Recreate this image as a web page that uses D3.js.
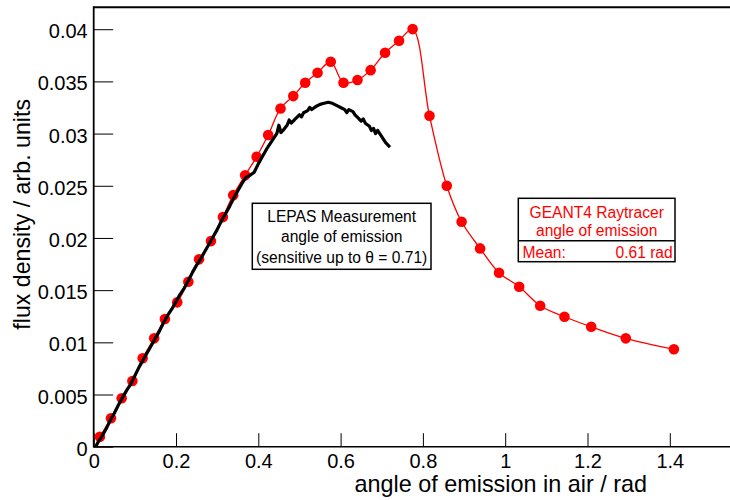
<!DOCTYPE html>
<html><head><meta charset="utf-8">
<script src="https://cdn.jsdelivr.net/npm/d3@7"></script>
<style>
html,body{margin:0;padding:0;background:#fff;}
svg{display:block;font-family:"Liberation Sans",Arial,Helvetica,sans-serif;}
</style></head>
<body>
<svg id="chart" width="730" height="500"></svg>
<script>
// ---- data ----
const geantAngle = [0.015,0.042,0.068,0.094,0.119,0.147,0.173,0.203,0.230,0.256,0.285,0.314,0.339,0.368,0.396,0.424,0.454,0.485,0.514,0.544,0.576,0.607,0.641,0.673,0.708,0.742,0.775,0.816,0.858,0.894,0.939,0.985,1.034,1.085,1.144,1.209,1.293,1.410];
const geantFlux  = [0.00096,0.00272,0.00464,0.00629,0.00847,0.01038,0.01223,0.01383,0.0158,0.01795,0.0197,0.0220,0.0241,0.0260,0.02778,0.02986,0.03241,0.03359,0.03487,0.03583,0.03688,0.03487,0.03513,0.03608,0.03774,0.03889,0.04001,0.03171,0.0250,0.02155,0.0190,0.01667,0.01533,0.01351,0.01245,0.01149,0.01038,0.00933];

const lepasAngle = [0.005,0.01,0.02,0.03,0.04,0.05,0.06,0.07,0.08,0.09,0.10,0.11,0.12,0.13,0.14,0.15,0.16,0.17,0.18,0.19,0.20,0.21,0.22,0.23,0.24,0.25,0.26,0.27,0.28,0.29,0.30,0.31,0.32,0.33,0.34,0.35,0.36,0.37,0.38,0.39,0.40,0.41,0.42,0.43,0.44,0.445,0.45,0.455,0.46,0.47,0.475,0.48,0.49,0.50,0.505,0.51,0.52,0.525,0.53,0.54,0.55,0.56,0.57,0.58,0.59,0.60,0.61,0.615,0.62,0.63,0.635,0.64,0.65,0.655,0.66,0.67,0.675,0.68,0.685,0.69,0.70,0.705,0.71,0.72];
const lepasFlux  = [0.0000,0.0004,0.0010,0.0017,0.0025,0.0032,0.0040,0.0047,0.0054,0.0060,0.0068,0.0076,0.0083,0.0090,0.0097,0.0104,0.0111,0.0119,0.0126,0.0132,0.0139,0.0146,0.0152,0.0159,0.0167,0.0174,0.0180,0.0187,0.0194,0.0201,0.0208,0.0216,0.0223,0.0230,0.0238,0.0245,0.0252,0.0258,0.0260,0.0263,0.0271,0.0278,0.0285,0.0291,0.0297,0.0300,0.0308,0.0301,0.0303,0.0308,0.0313,0.0310,0.0314,0.0318,0.0316,0.0320,0.0322,0.0325,0.0323,0.0326,0.0328,0.0329,0.0330,0.0329,0.0327,0.0325,0.0323,0.0320,0.0323,0.0321,0.0318,0.0316,0.0312,0.0314,0.0310,0.0307,0.0303,0.0305,0.0300,0.0303,0.0297,0.0294,0.0291,0.0287];

const xTickValues = [0,0.2,0.4,0.6,0.8,1.0,1.2,1.4];
const xTickLabels = ["0","0.2","0.4","0.6","0.8","1","1.2","1.4"];
const yTickValues = [0,0.005,0.01,0.015,0.02,0.025,0.03,0.035,0.04];
const yTickLabels = ["0","0.005","0.01","0.015","0.02","0.025","0.03","0.035","0.04"];

const xTitle = "angle of emission in air / rad";
const yTitle = "flux density / arb. units";
const lepasLegend = ["LEPAS Measurement","angle of emission","(sensitive up to \u03b8 = 0.71)"];
const geantLegend = ["GEANT4 Raytracer","angle of emission"];
const geantMean = ["Mean:","0.61 rad"];

// ---- layout ----
const svg = d3.select("#chart");
const L = 93.7, T = 7.3, B = 446.7;
const x = d3.scaleLinear().domain([0,1.55]).range([L, L + 1.55*411.5]);
const y = d3.scaleLinear().domain([0,0.0421]).range([B, T]);
const RED = "#ff0000";

// frame
svg.append("line").attr("x1",L).attr("x2",731).attr("y1",T).attr("y2",T)
  .attr("stroke","#000").attr("stroke-width",2);

// x axis
const xMinor = d3.range(0,1.5501,0.05).filter(v=>Math.abs(v/0.2-Math.round(v/0.2))>1e-6);
const gx = svg.append("g").attr("transform",`translate(0,${B})`);
gx.call(d3.axisBottom(x).tickValues(xMinor).tickSize(-7).tickFormat(""));
gx.call(d3.axisBottom(x).tickValues(xTickValues).tickSize(-13.5)
  .tickFormat((d,i)=>xTickLabels[i]).tickPadding(0));
gx.select(".domain").remove();
gx.selectAll(".tick line").attr("stroke","#000").attr("stroke-width",1);
gx.selectAll(".tick text").attr("font-size",20).attr("fill","#000")
  .attr("font-family","Liberation Sans, Arial, sans-serif").attr("dy",null).attr("y",21);
svg.append("line").attr("x1",L).attr("x2",731).attr("y1",B).attr("y2",B)
  .attr("stroke","#000").attr("stroke-width",1.6);

// y axis
const yMinor = d3.range(0,0.0421,0.001).filter(v=>Math.abs(v/0.005-Math.round(v/0.005))>1e-6);
const gy = svg.append("g").attr("transform",`translate(${L},0)`);
gy.call(d3.axisLeft(y).tickValues(yMinor).tickSize(-9.5).tickFormat(""));
gy.call(d3.axisLeft(y).tickValues(yTickValues).tickSize(-19.5)
  .tickFormat((d,i)=>yTickLabels[i]).tickPadding(6));
gy.select(".domain").remove();
gy.selectAll(".tick line").attr("stroke","#000").attr("stroke-width",1);
gy.selectAll(".tick text").attr("font-size",20).attr("fill","#000")
  .attr("font-family","Liberation Sans, Arial, sans-serif").attr("dy",null).attr("y",8.5);
svg.append("line").attr("x1",L).attr("x2",L).attr("y1",T-1).attr("y2",B+0.8)
  .attr("stroke","#000").attr("stroke-width",1.8);

// titles
svg.append("text").attr("x",647).attr("y",492).attr("text-anchor","end")
  .attr("font-size",23.4).text(xTitle);
svg.append("text").attr("transform","translate(30,99) rotate(-90)").attr("text-anchor","end")
  .attr("font-size",23.2).text(yTitle);

// GEANT4 curve
const gData = geantAngle.map((a,i)=>[a,geantFlux[i]]);
svg.append("path").datum(gData)
  .attr("d", d3.line().x(d=>x(d[0])).y(d=>y(d[1])).curve(d3.curveCatmullRom.alpha(0.5)))
  .attr("fill","none").attr("stroke",RED).attr("stroke-width",1.3);
svg.append("g").selectAll("circle").data(gData).join("circle")
  .attr("cx",d=>x(d[0])).attr("cy",d=>y(d[1])).attr("r",5.3).attr("fill",RED);

// LEPAS curve
const lData = lepasAngle.map((a,i)=>[a,lepasFlux[i]]);
svg.append("path").datum(lData)
  .attr("d", d3.line().x(d=>x(d[0])).y(d=>y(d[1])))
  .attr("fill","none").attr("stroke","#000").attr("stroke-width",3.2).attr("stroke-linejoin","round");

// LEPAS legend
svg.append("rect").attr("x",252.3).attr("y",203.3).attr("width",178.7).attr("height",66)
  .attr("fill","#fff").attr("stroke","#000").attr("stroke-width",1.5);
svg.append("g").selectAll("text").data(lepasLegend).join("text")
  .attr("x",341.7).attr("y",(d,i)=>221.5+i*20.5).attr("text-anchor","middle")
  .attr("font-size",15.6).attr("fill","#000").text(d=>d);

// GEANT legend
svg.append("rect").attr("x",518.3).attr("y",198.3).attr("width",156.7).attr("height",63.4)
  .attr("fill","#fff").attr("stroke","#000").attr("stroke-width",1.5);
svg.append("line").attr("x1",518.3).attr("x2",675).attr("y1",240.7).attr("y2",240.7)
  .attr("stroke","#000").attr("stroke-width",1.5);
svg.append("g").selectAll("text").data(geantLegend).join("text")
  .attr("x",596.7).attr("y",(d,i)=>218.3+i*17.5).attr("text-anchor","middle")
  .attr("font-size",15.6).attr("fill",RED).text(d=>d);
svg.append("text").attr("x",522.5).attr("y",257.7).attr("font-size",15.6).attr("fill",RED).text(geantMean[0]);
svg.append("text").attr("x",672.7).attr("y",257.7).attr("text-anchor","end").attr("font-size",15.6).attr("fill",RED).text(geantMean[1]);
</script>
</body></html>
